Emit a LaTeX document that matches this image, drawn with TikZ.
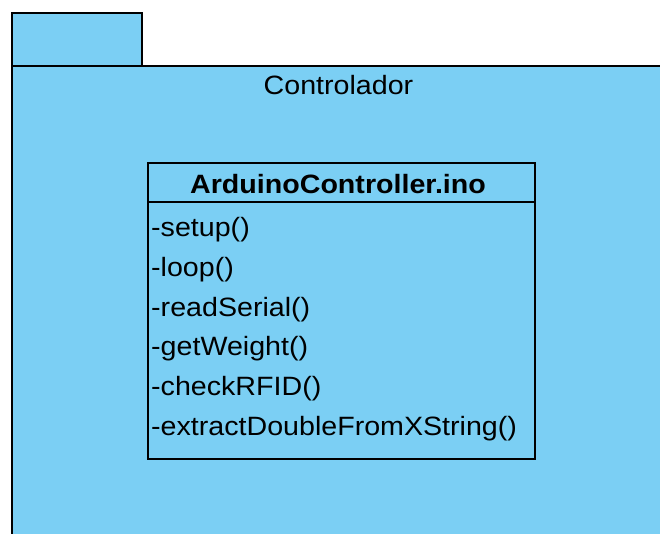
\documentclass[tikz,border=0pt]{standalone}
\usepackage{fontspec}
\setmainfont{Liberation Sans}[FakeStretch=1.08]
\definecolor{pkgblue}{HTML}{7BCFF4}
\tikzset{
  pkgbox/.style={draw=black, fill=pkgblue, line width=2pt, inner sep=0pt, rectangle},
  clsbox/.style={draw=black, line width=2pt, inner sep=0pt, rectangle},
  txt/.style={font=\fontsize{26.5}{31}\selectfont, inner sep=0pt},
  btxt/.style={font=\fontsize{26.5}{31}\selectfont\bfseries, inner sep=0pt},
}
\begin{document}
\begin{tikzpicture}[x=1pt,y=-1pt]
\useasboundingbox (0,0) rectangle (660,533);
\clip (0,0) rectangle (660,533);
\node[pkgbox, minimum width=130, minimum height=53, anchor=north west] (tab) at (11,12) {};
\node[pkgbox, minimum width=660, minimum height=490, anchor=north west] (body) at (11,65) {};
\node[txt, anchor=base] (label) at (338.5,94) {Controlador};
\node[clsbox, minimum width=387, minimum height=296, anchor=north west] (cls) at (147,162) {};
\node[clsbox, minimum width=387, minimum height=39, anchor=north west] (head) at (cls.north west) {};
\node[btxt, anchor=base] (title) at (338,193.3) {ArduinoController.ino};
\node[txt, anchor=base west] (m1) at (151,236.7) {-setup()};
\node[txt, anchor=base west] (m2) at (151,276.4) {-loop()};
\node[txt, anchor=base west] (m3) at (151,316) {-readSerial()};
\node[txt, anchor=base west] (m4) at (151,355.7) {-getWeight()};
\node[txt, anchor=base west] (m5) at (151,395.4) {-checkRFID()};
\node[txt, anchor=base west] (m6) at (151,435) {-extractDoubleFromXString()};
\end{tikzpicture}
\end{document}
